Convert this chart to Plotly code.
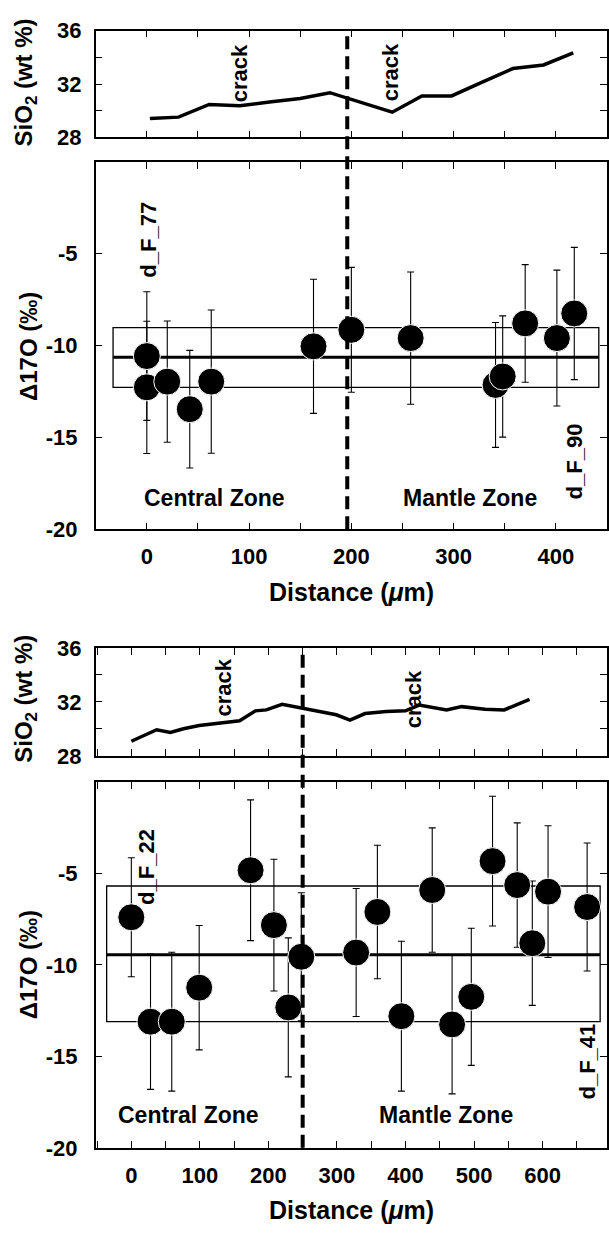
import plotly.graph_objects as go

FONT = "Liberation Sans, Arial, Helvetica, sans-serif"
H = 1237.0

# ---------------- Upper pair (d_F_77 ... d_F_90) ----------------
sio2_a_x = [3, 31, 61, 91, 122, 150, 179, 240, 269, 298, 328, 358, 388, 417]
sio2_a_y = [29.42, 29.52, 30.47, 30.38, 30.67, 30.91, 31.35, 29.89, 31.11, 31.11, 32.14, 33.16, 33.43, 34.34]

d17o_a_x = [0, 0, 20, 42, 63, 163, 200, 258, 341, 348, 370, 401, 418]
d17o_a_y = [-10.57, -12.27, -11.96, -13.46, -11.96, -10.04, -9.14, -9.59, -12.14, -11.68, -8.79, -9.59, -8.25]
d17o_a_err = [3.5, 3.6, 3.3, 3.2, 3.9, 3.65, 3.4, 3.6, 3.4, 3.3, 3.2, 3.7, 3.6]
mean_a = -10.63
band_a = [-12.27, -9.02]
band_a_x = [-33, 442]
boundary_a = 196

# ---------------- Lower pair (d_F_22 ... d_F_41) ----------------
sio2_b_x = [0, 37, 57, 76, 99, 124, 158, 181, 197, 220, 299, 319, 341, 372, 400, 420, 460, 482, 516, 544, 581]
sio2_b_y = [29.09, 29.94, 29.74, 30.01, 30.25, 30.42, 30.61, 31.34, 31.41, 31.82, 31.05, 30.66, 31.14, 31.29, 31.34, 31.77, 31.41, 31.65, 31.46, 31.41, 32.18]

d17o_b_x = [0, 28, 59, 99, 174, 208, 229, 248, 328, 359, 394, 439, 468, 496, 527, 563, 585, 608, 665]
d17o_b_y = [-7.39, -13.1, -13.1, -11.24, -4.82, -7.82, -12.32, -9.55, -9.32, -7.1, -12.8, -5.9, -13.25, -11.74, -4.32, -5.63, -8.81, -5.99, -6.83]
d17o_b_err = [3.25, 3.7, 3.8, 3.4, 3.85, 3.6, 3.8, 3.5, 3.5, 3.65, 4.1, 3.4, 3.8, 3.75, 3.55, 3.4, 3.4, 3.6, 3.5]
mean_b = -9.44
band_b = [-13.1, -5.68]
band_b_x = [-36, 684]
boundary_b = 250

# ---------------- Ticks ----------------
xt_a = [0, 100, 200, 300, 400]
xt_a_text = ["0", "100", "200", "300", "400"]
xt_b = [0, 100, 200, 300, 400, 500, 600]
xt_b_text = ["0", "100", "200", "300", "400", "500", "600"]
x_minor_step = 50
yt_sio2 = [28, 32, 36]
yt_sio2_text = ["28", "32", "36"]
y_sio2_minor_step = 2
yt_d17 = [-20, -15, -10, -5]
yt_d17_text = ["-20", "-15", "-10", "-5"]

# ---------------- Layout geometry (pixels) ----------------
XL = 96 / 609.0
p1 = (19, 128)
p2 = (153, 528)
p3 = (649, 759.3)
p4 = (786, 1159.3)


def dom(p):
    return [1 - p[1] / H, 1 - p[0] / H]


tickfont = dict(family=FONT, size=22, color="black", weight="bold")


def minor(step):
    return dict(ticks="inside", ticklen=7, tickwidth=1.2, tickcolor="black",
                dtick=step, tick0=0, showgrid=False)


def xaxis(rng, tv, tt, anchor, show):
    return dict(domain=[XL, 1.0], range=rng, anchor=anchor, showline=True, linecolor="black",
                linewidth=1.5, mirror="ticks", ticks="inside", ticklen=7, tickwidth=1.2,
                tickcolor="black", tickvals=tv, ticktext=tt, tickfont=tickfont,
                minor=minor(x_minor_step),
                showticklabels=show, ticklabelstandoff=7, showgrid=False, zeroline=False)


def yaxis(p, rng, tv, tt, anchor, standoff, mstep=None):
    d = dict(domain=dom(p), range=rng, anchor=anchor, showline=True, linecolor="black",
             linewidth=1.5, mirror="ticks", ticks="inside", ticklen=7, tickwidth=1.2,
             tickcolor="black", tickvals=tv, ticktext=tt, tickfont=tickfont,
             ticklabelstandoff=standoff, showgrid=False, zeroline=False)
    if mstep:
        d["minor"] = minor(mstep)
    return d


fig = go.Figure()

fig.add_trace(go.Scatter(x=sio2_a_x, y=sio2_a_y, mode="lines", xaxis="x", yaxis="y",
                         line=dict(color="black", width=3.5)))
fig.add_trace(go.Scatter(x=d17o_a_x, y=d17o_a_y, mode="markers", xaxis="x2", yaxis="y2",
                         marker=dict(color="black", size=27, line=dict(color="white", width=1)),
                         error_y=dict(type="data", array=d17o_a_err, visible=True, color="black",
                                      thickness=1.1, width=3.5)))
fig.add_trace(go.Scatter(x=sio2_b_x, y=sio2_b_y, mode="lines", xaxis="x3", yaxis="y3",
                         line=dict(color="black", width=3.5)))
fig.add_trace(go.Scatter(x=d17o_b_x, y=d17o_b_y, mode="markers", xaxis="x4", yaxis="y4",
                         marker=dict(color="black", size=27, line=dict(color="white", width=1)),
                         error_y=dict(type="data", array=d17o_b_err, visible=True, color="black",
                                      thickness=1.1, width=3.5)))

shapes = []
shapes.append(dict(type="rect", xref="x2", yref="y2", x0=band_a_x[0], x1=band_a_x[1],
                   y0=band_a[0], y1=band_a[1], line=dict(color="black", width=1.3), layer="below"))
shapes.append(dict(type="line", xref="x2", yref="y2", x0=band_a_x[0], x1=band_a_x[1],
                   y0=mean_a, y1=mean_a, line=dict(color="black", width=3), layer="below"))
shapes.append(dict(type="rect", xref="x4", yref="y4", x0=band_b_x[0], x1=band_b_x[1],
                   y0=band_b[0], y1=band_b[1], line=dict(color="black", width=1.3), layer="below"))
shapes.append(dict(type="line", xref="x4", yref="y4", x0=band_b_x[0], x1=band_b_x[1],
                   y0=mean_b, y1=mean_b, line=dict(color="black", width=3), layer="below"))
shapes.append(dict(type="line", xref="x2", yref="paper", x0=boundary_a, x1=boundary_a,
                   y0=1 - p2[1] / H, y1=1 - p1[0] / H,
                   line=dict(color="black", width=4, dash="13px,7px")))
shapes.append(dict(type="line", xref="x4", yref="paper", x0=boundary_b, x1=boundary_b,
                   y0=1 - p4[1] / H, y1=1 - p3[0] / H,
                   line=dict(color="black", width=4, dash="13px,7px")))

ann = []


def txt(x, y, t, xr, yr, angle=0, size=23):
    ann.append(dict(x=x, y=y, xref=xr, yref=yr, text=t, showarrow=False, textangle=angle,
                    xanchor="center", yanchor="middle",
                    font=dict(family=FONT, size=size, color="black", weight="bold")))


txt(90, 32.8, "crack", "x", "y", -90, 22)
txt(239, 32.9, "crack", "x", "y", -90, 22)
txt(2, -4.24, "d_F_77", "x2", "y2", -90, 22)
txt(418, -16.29, "d_F_90", "x2", "y2", -90, 22)
txt(66, -18.29, "Central Zone", "x2", "y2")
txt(316, -18.29, "Mantle Zone", "x2", "y2")
txt(135, 33.06, "crack", "x3", "y3", -90, 22)
txt(412, 32.18, "crack", "x3", "y3", -90, 22)
txt(23, -4.63, "d_F_22", "x4", "y4", -90, 22)
txt(665, -15.27, "d_F_41", "x4", "y4", -90, 22)
txt(83, -18.21, "Central Zone", "x4", "y4")
txt(459, -18.21, "Mantle Zone", "x4", "y4")

xc = (96 + 609) / 2 / 609.0
txt(xc, 1 - 591.7 / H, "Distance (<i>μ</i>m)", "paper", "paper", 0, 25)
txt(xc, 1 - 1222.7 / H, "Distance (<i>μ</i>m)", "paper", "paper", 0, 25)
txt(26 / 609.0, 1 - 72 / H, "SiO<sub>2</sub> (wt %)", "paper", "paper", -90, 24)
txt(26 / 609.0, 1 - 701 / H, "SiO<sub>2</sub> (wt %)", "paper", "paper", -90, 24)
txt(28 / 609.0, 1 - 341 / H, "Δ17O (‰)", "paper", "paper", -90, 24)
txt(28 / 609.0, 1 - 972 / H, "Δ17O (‰)", "paper", "paper", -90, 24)

fig.update_layout(
    width=609, height=1237, autosize=False,
    margin=dict(l=0, r=0, t=0, b=0, pad=0),
    paper_bgcolor="white", plot_bgcolor="white", showlegend=False,
    xaxis=xaxis([-50, 450], xt_a, xt_a_text, "y", False),
    yaxis=yaxis(p1, [28, 36], yt_sio2, yt_sio2_text, "x", 8, y_sio2_minor_step),
    xaxis2=xaxis([-50, 450], xt_a, xt_a_text, "y2", True),
    yaxis2=yaxis(p2, [-20, 0], yt_d17, yt_d17_text, "x2", 12),
    xaxis3=xaxis([-52, 694], xt_b, xt_b_text, "y3", False),
    yaxis3=yaxis(p3, [28, 36], yt_sio2, yt_sio2_text, "x3", 8, y_sio2_minor_step),
    xaxis4=xaxis([-52, 694], xt_b, xt_b_text, "y4", True),
    yaxis4=yaxis(p4, [-20, 0], yt_d17, yt_d17_text, "x4", 12),
    shapes=shapes, annotations=ann,
)

fig.write_html("out.html")
